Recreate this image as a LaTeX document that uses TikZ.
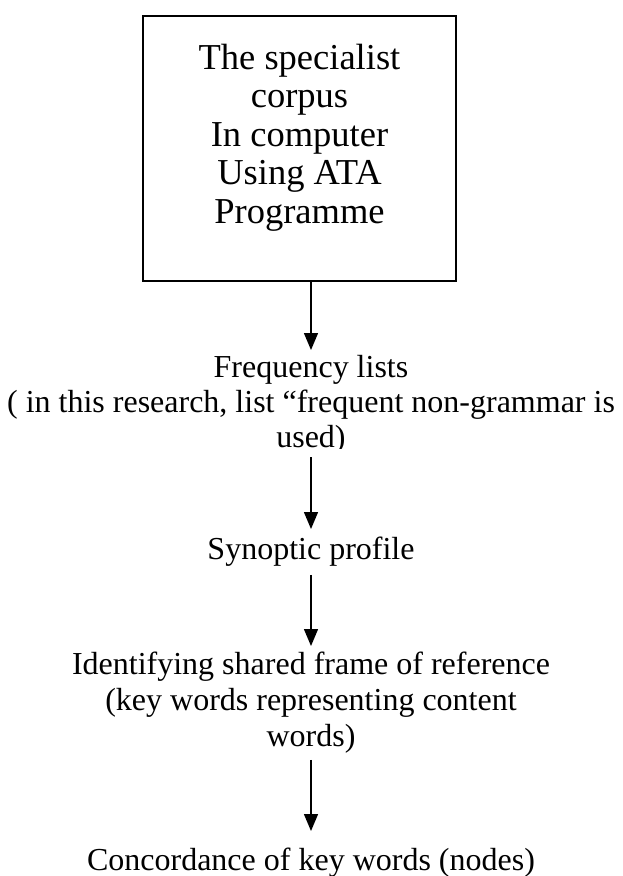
\documentclass[tikz,border=0pt]{standalone}
\usepackage{fontspec}
\setmainfont{Liberation Serif}
\usetikzlibrary{arrows.meta, positioning}

\tikzset{
    sourcebox/.style={draw, line width=2pt, minimum width=313pt, inner xsep=0pt, inner ysep=28pt,
        text depth=30pt, align=center, font=\fontsize{36.5}{38.5}\selectfont},
    stagetext/.style={align=center, inner sep=0pt, font=\fontsize{32}{35}\selectfont},
    flowarrow/.style={-{Triangle[length=17pt,width=14pt]}, line width=1.4pt}
}

\begin{document}
\begin{tikzpicture}[x=1pt,y=-1pt]
    \useasboundingbox (0,0) rectangle (622,876);
    \node[sourcebox, anchor=north] (corpus) at (299.5,15) {The specialist\\corpus\\In computer\\Using ATA\\Programme};
    % text box of the first stage is cut off at its lower edge
    \begin{scope}
        \clip (0,0) rectangle (622,448);
        \node[stagetext, anchor=north] (freq) at (311,355) {Frequency lists\\( in this research, list “frequent non-grammar is\\used)};
    \end{scope}
    \coordinate (freqcut) at (311,457);
    \node[stagetext, anchor=north] (synoptic) at (311,537) {Synoptic profile};
    \node[stagetext, anchor=north, font=\fontsize{32}{36}\selectfont] (frame) at (311,652) {Identifying shared frame of reference\\(key words representing content\\words)};
    \node[stagetext, anchor=north] (concord) at (311,848) {Concordance of key words (nodes)};
    % arrows between the stages
    \draw[flowarrow, shorten >=5pt] (corpus.south -| freq.north) -- (freq.north);
    \draw[flowarrow, shorten >=8pt] (freqcut) -- (synoptic.north);
    \draw[flowarrow, shorten <=8pt, shorten >=6pt] (synoptic.south) -- (frame.north);
    \draw[flowarrow, shorten <=6pt, shorten >=17pt] (frame.south) -- (concord.north);
\end{tikzpicture}
\end{document}
